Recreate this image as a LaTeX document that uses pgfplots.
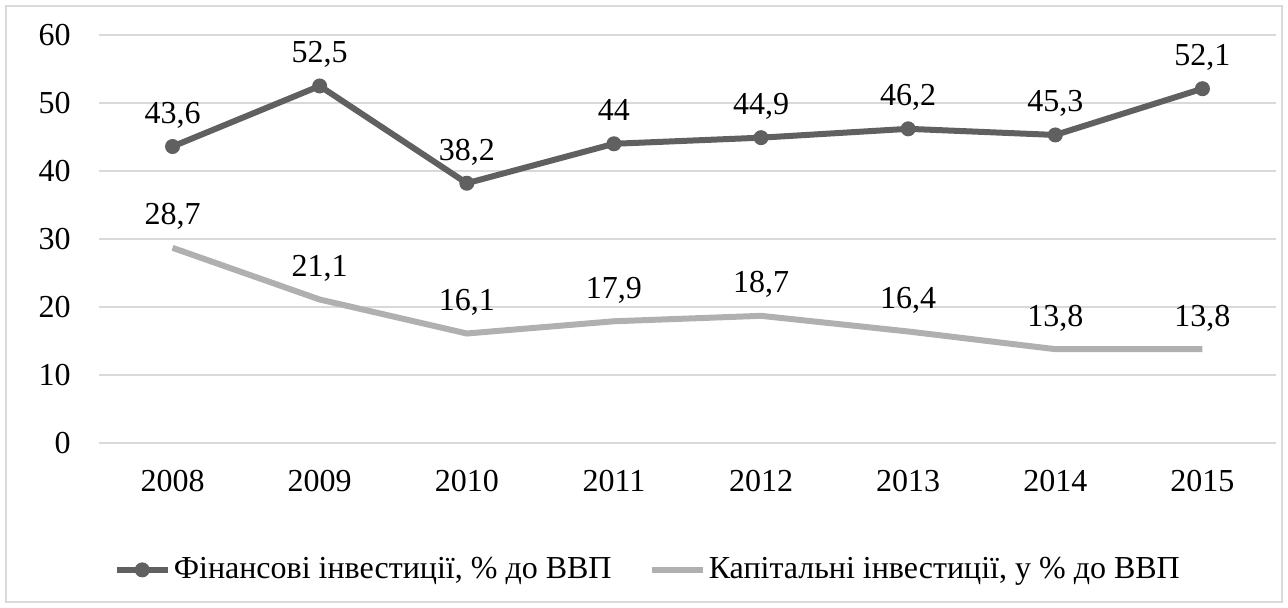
\documentclass[border=0pt]{standalone}
\usepackage{fontspec}
\setmainfont{Liberation Serif}
\usepackage{pgfplots}
\pgfplotsset{compat=1.18}
\definecolor{darkser}{HTML}{606060}
\definecolor{lightser}{HTML}{B0B0B0}
\definecolor{gridc}{HTML}{D9D9D9}
\begin{document}
\fontsize{16}{19.2}\selectfont
\begin{tikzpicture}
\path (-49.5pt,-82.5pt) rectangle (594.5pt,221.5pt);
\draw[gridc, line width=0.75pt] (-46.5pt,-79.5pt) rectangle (591.5pt,218.5pt);
\begin{axis}[
  at={(0,0)}, anchor=south west,
  width=588.5pt, height=204pt, scale only axis,
  xmin=-0.5, xmax=7.5, ymin=0, ymax=60,
  ytick={0,10,...,60},
  xtick={0,...,7},
  xticklabels={2008,2009,2010,2011,2012,2013,2014,2015},
  axis line style={draw=none},
  major tick length=0pt,
  ymajorgrids, grid style={gridc, line width=0.75pt},
  /pgf/number format/assume math mode=true,
  /pgf/number format/use comma,
  tick label style={font=\fontsize{16}{19.2}\selectfont},
  yticklabel style={xshift=-8.7pt},
  xticklabel style={yshift=-8.2pt},
  nodes near coords,
  every node near coord/.append style={anchor=base, yshift=11.5pt, font=\fontsize{16}{19.2}\selectfont, text=black},
  legend style={at={(0.007,-0.311)}, anchor=west, draw=none, fill=none,
    font=\fontsize{16}{19.2}\selectfont, nodes={inner sep=1.5pt}},
  legend columns=2,
  /tikz/every even column/.append style={column sep=17pt},
  legend image code/.code={\draw[mark repeat=2,mark phase=2,#1] plot coordinates {(0cm,0cm) (0.45cm,0cm) (0.9cm,0cm)};},
  clip=false,
]
\addplot[darkser, line width=3pt, mark=*, mark size=3.5pt, mark options={fill=darkser, draw=darkser, line width=0.5pt}]
  coordinates {(0,43.6) (1,52.5) (2,38.2) (3,44) (4,44.9) (5,46.2) (6,45.3) (7,52.1)};
\addlegendentry{Фінансові інвестиції, \% до ВВП}
\addplot[lightser, line width=3pt, mark=none]
  coordinates {(0,28.7) (1,21.1) (2,16.1) (3,17.9) (4,18.7) (5,16.4) (6,13.8) (7,13.8)};
\addlegendentry{Капітальні інвестиції, у \% до ВВП}
\end{axis}
\end{tikzpicture}
\end{document}
